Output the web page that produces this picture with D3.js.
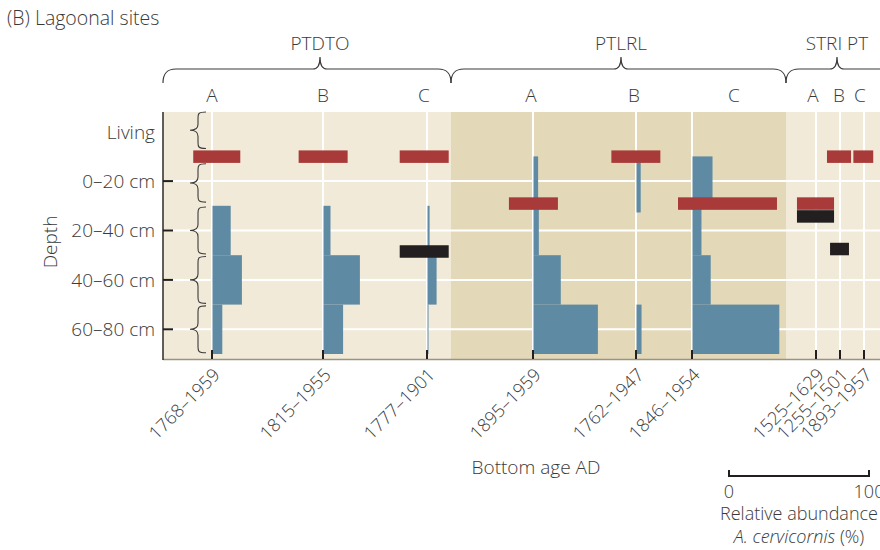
<!DOCTYPE html>
<html><head><meta charset="utf-8">
<script src="https://cdn.jsdelivr.net/npm/d3@7"></script>
<style>
html,body{margin:0;padding:0;background:#fff;}
svg text{font-family:"Open Sans",sans-serif;font-weight:350;fill:#3a3a3a;}
</style></head>
<body><svg id="c" width="880" height="550"></svg>
<script>
// ---------- DATA ----------
const title = "(B)  Lagoonal sites";
const groups = ["PTDTO", "PTLRL", "STRI PT"];
const cores = ["PTDTO A","PTDTO B","PTDTO C","PTLRL A","PTLRL B","PTLRL C","STRI A","PT B","PT C"];
const coreLetters = ["A","B","C","A","B","C","A","B","C"];
const coreGroup = [0,0,0,1,1,1,2,2,2];
const bottomAges = ["1768–1959","1815–1955","1777–1901","1895–1959","1762–1947","1846–1954","1525–1629","1255–1501","1893–1957"];
const depthLabels = ["Living","0–20 cm","20–40 cm","40–60 cm","60–80 cm"];
const depthMid = [-10, 10, 30, 50, 70];           // cm, band centres
const gridDepths = [10, 30, 50, 70];
// brace extents per depth band (cm)
const braceTop = [-25, 3, 20.5, 40.5, 60.5];
const braceBottom = [-3.2, 18.5, 39.5, 59.5, 79.5];
// relative abundance of A. cervicornis (%): [core, top cm, bottom cm, %]
const abundance = [
  ["PTDTO A", 20, 40, 13], ["PTDTO A", 40, 60, 21], ["PTDTO A", 60, 80, 7],
  ["PTDTO B", 20, 40, 5],  ["PTDTO B", 40, 60, 26], ["PTDTO B", 60, 80, 14],
  ["PTDTO C", 20, 40, 1.5],["PTDTO C", 40, 60, 6.5],["PTDTO C", 60, 80, 0.7],
  ["PTLRL A", 0, 20, 3.3], ["PTLRL A", 20, 40, 3.8],["PTLRL A", 40, 60, 19.5],["PTLRL A", 60, 80, 46],
  ["PTLRL B", 0, 22.7, 3], ["PTLRL B", 60, 80, 3.6],
  ["PTLRL C", 0, 20, 14.3],["PTLRL C", 20, 40, 6.4],["PTLRL C", 40, 60, 13],["PTLRL C", 60, 80, 62]
];
// horizontal markers: [core, depth centre cm, left %, right %, kind]
const markers = [
  ["PTDTO A", 0, -13.4, 20.2, "red"],
  ["PTDTO B", 0, -17.4, 17.6, "red"],
  ["PTDTO C", 0, -19.5, 15.5, "red"],
  ["PTDTO C", 38.4, -19.5, 15.5, "black"],
  ["PTLRL A", 19, -17.2, 17.8, "red"],
  ["PTLRL B", 0, -17.6, 17.4, "red"],
  ["PTLRL C", 19, -10, 60.7, "red"],
  ["STRI A", 19, -13.6, 12.9, "red"],
  ["STRI A", 24.2, -13.6, 12.9, "black"],
  ["PT B", 0, -9.3, 7.9, "red"],
  ["PT B", 37.4, -7.1, 6.4, "black"],
  ["PT C", 0, -7.6, 6.6, "red"]
];
const scaleTicks = [0, 100];

// ---------- LAYOUT ----------
const plotL = 163, plotR = 880, plotT = 112, plotB = 359;
const colPos = [212, 323, 427, 533, 636, 692, 816, 840, 864];
const letterPos = [212, 323, 424, 531, 634, 734, 813, 839, 860];
const groupBounds = [[163, 451], [451, 786], [786, 900]];
const groupTips = [320, 621, 837];
const groupFill = ["#f1ead8", "#e3d9b8", "#f1ead8"];
const colors = {blue: "#5f8aa3", red: "#a83b39", black: "#231f20"};
const FS = 19;

const svg = d3.select("#c");
const x = d3.scaleOrdinal().domain(cores).range(colPos);
const xl = d3.scaleOrdinal().domain(cores).range(letterPos);
const pct = d3.scaleLinear().domain([0, 100]).range([0, 140]);
const y = d3.scaleLinear().domain([-20, 80]).range([107, 354]);

// title
svg.append("text").attr("x", 7).attr("y", 25).attr("font-size", 19.5).text(title);

// backgrounds
svg.selectAll("rect.bg").data(groups).join("rect").attr("class", "bg")
  .attr("x", (d, i) => groupBounds[i][0]).attr("y", plotT)
  .attr("width", (d, i) => groupBounds[i][1] - groupBounds[i][0]).attr("height", plotB - plotT)
  .attr("fill", (d, i) => groupFill[i]);

// horizontal white grid
svg.selectAll("line.hg").data(gridDepths).join("line").attr("class", "hg")
  .attr("x1", plotL).attr("x2", plotR).attr("y1", d => y(d)).attr("y2", d => y(d))
  .attr("stroke", "#fff").attr("stroke-width", 2);
// vertical white baselines
svg.selectAll("line.vg").data(cores).join("line").attr("class", "vg")
  .attr("x1", d => x(d)).attr("x2", d => x(d)).attr("y1", plotT).attr("y2", plotB)
  .attr("stroke", "#fff").attr("stroke-width", 2);

// abundance bars
svg.selectAll("rect.ab").data(abundance).join("rect").attr("class", "ab")
  .attr("x", d => x(d[0]) + 0.5).attr("y", d => y(d[1]))
  .attr("width", d => Math.max(1, pct(d[3]))).attr("height", d => y(d[2]) - y(d[1]))
  .attr("fill", colors.blue);

// markers
svg.selectAll("rect.mk").data(markers).join("rect").attr("class", "mk")
  .attr("x", d => x(d[0]) + pct(d[2])).attr("y", d => y(d[1]) - 6)
  .attr("width", d => pct(d[3]) - pct(d[2])).attr("height", 12.5)
  .attr("fill", d => colors[d[4]]);

// depth braces
function vBrace(xt, xe, y0, y1) {
  const xm = (xt + xe) / 2, ym = (y0 + y1) / 2, q = 6;
  return `M${xe},${y0} C${xm},${y0} ${xm},${y0 + 2} ${xm},${y0 + q} L${xm},${ym - q} C${xm},${ym - 2} ${xm - 2},${ym} ${xt},${ym}` +
         ` C${xm - 2},${ym} ${xm},${ym + 2} ${xm},${ym + q} L${xm},${y1 - q} C${xm},${y1 - 2} ${xm},${y1} ${xe},${y1}`;
}
svg.selectAll("path.vb").data(depthLabels).join("path").attr("class", "vb")
  .attr("d", (d, i) => vBrace(190, 206, Math.max(plotT, y(braceTop[i])), y(braceBottom[i])))
  .attr("fill", "none").attr("stroke", "#3a3a3a").attr("stroke-width", 1.1);

// axes lines
svg.append("line").attr("x1", plotL).attr("x2", plotR).attr("y1", plotB + 0.5).attr("y2", plotB + 0.5)
  .attr("stroke", "#9a9384").attr("stroke-width", 1.5);
svg.append("line").attr("x1", plotL).attr("x2", plotL).attr("y1", plotT).attr("y2", plotB + 1)
  .attr("stroke", "#2d2a28").attr("stroke-width", 1.5);

// y ticks & labels
svg.selectAll("line.yt").data(gridDepths).join("line").attr("class", "yt")
  .attr("x1", plotL).attr("x2", plotL + 10).attr("y1", d => y(d)).attr("y2", d => y(d))
  .attr("stroke", "#231f20").attr("stroke-width", 2);
svg.selectAll("text.yl").data(depthLabels).join("text").attr("class", "yl")
  .attr("x", 155).attr("y", (d, i) => y(depthMid[i])).attr("dy", "0.36em")
  .attr("text-anchor", "end").attr("font-size", FS).text(d => d);
svg.append("text").attr("transform", "translate(57,242) rotate(-90)")
  .attr("text-anchor", "middle").attr("font-size", FS).text("Depth");

// bottom ticks and rotated labels
svg.selectAll("line.xt").data(cores).join("line").attr("class", "xt")
  .attr("x1", d => x(d)).attr("x2", d => x(d)).attr("y1", plotB - 9).attr("y2", plotB)
  .attr("stroke", "#231f20").attr("stroke-width", 2);
svg.selectAll("text.xl").data(cores).join("text").attr("class", "xl")
  .attr("transform", d => `translate(${x(d) + 9},${plotB + 17}) rotate(-45)`)
  .attr("text-anchor", "end").attr("font-size", 18).text((d, i) => bottomAges[i]);
svg.append("text").attr("x", 536).attr("y", 474).attr("text-anchor", "middle")
  .attr("font-size", FS).text("Bottom age AD");

// top braces, group labels, core letters
function hBrace(x0, x1, xt, yEnd, yLine, yTip) {
  return `M${x0},${yEnd} C${x0},${yLine + 4} ${x0 + 4},${yLine} ${x0 + 13},${yLine} L${xt - 7},${yLine}` +
         ` C${xt - 3},${yLine} ${xt},${yLine - 3} ${xt},${yTip} C${xt},${yLine - 3} ${xt + 3},${yLine} ${xt + 7},${yLine}` +
         ` L${x1 - 13},${yLine} C${x1 - 4},${yLine} ${x1},${yLine + 4} ${x1},${yEnd}`;
}
svg.selectAll("path.hb").data(groups).join("path").attr("class", "hb")
  .attr("d", (d, i) => hBrace(groupBounds[i][0], groupBounds[i][1], groupTips[i], 83, 69, 57))
  .attr("fill", "none").attr("stroke", "#3a3a3a").attr("stroke-width", 1.2);
svg.selectAll("text.gl").data(groups).join("text").attr("class", "gl")
  .attr("x", (d, i) => groupTips[i]).attr("y", 50).attr("text-anchor", "middle")
  .attr("font-size", FS).text(d => d);
svg.selectAll("text.cl").data(cores).join("text").attr("class", "cl")
  .attr("x", d => xl(d)).attr("y", 102).attr("text-anchor", "middle")
  .attr("font-size", FS).text((d, i) => coreLetters[i]);

// scale bar
const sbX = 729, sbY = 476;
svg.append("path").attr("d", `M${sbX},${sbY - 6} V${sbY} H${sbX + pct(100)} V${sbY - 6}`)
  .attr("fill", "none").attr("stroke", "#231f20").attr("stroke-width", 2);
svg.selectAll("text.sb").data(scaleTicks).join("text").attr("class", "sb")
  .attr("x", d => sbX + pct(d)).attr("y", 498).attr("text-anchor", "middle")
  .attr("font-size", 18).text(d => d);
svg.append("text").attr("x", sbX + pct(50)).attr("y", 520).attr("text-anchor", "middle")
  .attr("font-size", 18).text("Relative abundance");
const t2 = svg.append("text").attr("x", sbX + pct(50)).attr("y", 543).attr("text-anchor", "middle")
  .attr("font-size", 18);
t2.append("tspan").attr("font-style", "italic").text("A. cervicornis");
t2.append("tspan").text(" (%)");
</script></body></html>
